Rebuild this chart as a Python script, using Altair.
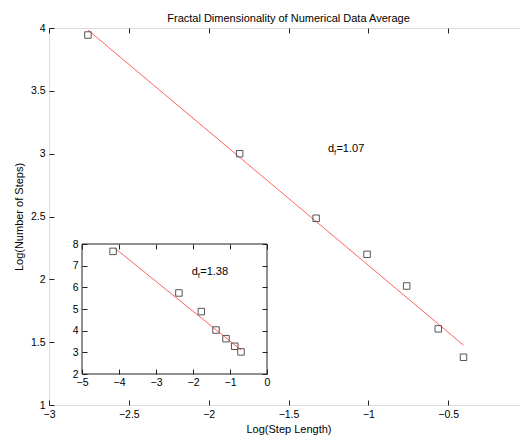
import altair as alt
import pandas as pd

# ---------------- data ----------------
main_x = [-2.756, -1.806, -1.327, -1.008, -0.760, -0.562, -0.404]
main_y = [3.944, 3.000, 2.486, 2.199, 1.947, 1.606, 1.380]
main_fit_x = [-2.756, -0.404]
main_fit_y = [3.984, 1.476]
main_label_pos = [-1.253, 3.037]
main_label_value = "=1.07"

inset_x = [-4.16, -2.38, -1.775, -1.378, -1.108, -0.873, -0.703]
inset_y = [7.66, 5.74, 4.88, 4.03, 3.63, 3.28, 3.02]
inset_fit_x = [-4.108, -0.703]
inset_fit_y = [7.80, 3.11]
inset_label_pos = [-2.035, 6.71]
inset_label_value = "=1.38"

main_xticks = [-3, -2.5, -2, -1.5, -1, -0.5]
main_xticks_all = [-3, -2.5, -2, -1.5, -1, -0.5, 0]
main_yticks = [1, 1.5, 2, 2.5, 3, 3.5, 4]
inset_xticks = [-5, -4, -3, -2, -1, 0]
inset_yticks = [2, 3, 4, 5, 6, 7, 8]

title_text = "Fractal Dimensionality of Numerical Data Average"
x_title = "Log(Step Length)"
y_title = "Log(Number of Steps)"

# ---------------- layout ----------------
W, H = 479, 377
FONT = "Liberation Sans"
INK = "#222222"
RED = "#ff6262"
SQ = "#555555"
LFS = 10.5
# inset box in plot pixels
IX0, IX1, IY0, IY1 = 33, 218, 346, 216

main_df = pd.DataFrame({"x": main_x, "y": main_y})
main_fit = pd.DataFrame({"x": main_fit_x, "y": main_fit_y})
main_lab = pd.DataFrame({"x": [main_label_pos[0]], "y": [main_label_pos[1]]})
inset_df = pd.DataFrame({"x": inset_x, "y": inset_y})
inset_fit = pd.DataFrame({"x": inset_fit_x, "y": inset_fit_y})
inset_lab = pd.DataFrame({"x": [inset_label_pos[0]], "y": [inset_label_pos[1]]})
inset_frame = pd.DataFrame({"x": [inset_xticks[0]], "x2": [inset_xticks[-1]],
                            "y": [inset_yticks[0]], "y2": [inset_yticks[-1]]})


def mxs():
    return alt.Scale(domain=[-3, 0], nice=False, zero=False)


def mys():
    return alt.Scale(domain=[1, 4], nice=False, zero=False)


def ixs():
    return alt.Scale(domain=[-5, 0], range=[IX0, IX1], nice=False, zero=False)


def iys():
    return alt.Scale(domain=[2, 8], range=[IY0, IY1], nice=False, zero=False)


common = dict(grid=False, domain=False, tickSize=5, tickColor=INK, tickWidth=1,
              labelFont=FONT, labelFontSize=LFS, labelColor="black",
              labelFlush=False, labelOverlap=False,
              titleFont=FONT, titleFontSize=11, titleFontWeight="normal",
              titleColor="black", zindex=1)

# main axes (inward ticks via negative offsets)
ax_main_bottom = alt.Axis(orient="bottom", values=main_xticks, format="~g", offset=-5,
                          labelPadding=4, title=x_title, titlePadding=4, **common)
ax_main_left = alt.Axis(orient="left", values=main_yticks, format="~g", offset=-5,
                        labelPadding=4, title=y_title, titlePadding=6, **common)
ax_main_top = alt.Axis(orient="top", values=main_xticks_all, labels=False, offset=-5,
                       title=None, **common)
ax_main_right = alt.Axis(orient="right", values=main_yticks, labels=False, offset=-5,
                         title=None, **common)

# inset axes
ax_in_bottom = alt.Axis(orient="bottom", values=inset_xticks, format="d",
                        offset=(IY0 - 5) - H, labelPadding=3, title=None, **common)
ax_in_left = alt.Axis(orient="left", values=inset_yticks, format="d",
                      offset=-(IX0 + 5), labelPadding=4, title=None, **common)
ax_in_top = alt.Axis(orient="top", values=inset_xticks, labels=False,
                     offset=-(IY1 + 5), title=None, **common)
ax_in_right = alt.Axis(orient="right", values=inset_yticks, labels=False,
                       offset=(IX1 - 5) - W, title=None, **common)

# ---------------- main layers ----------------
main_points = alt.Chart(main_df).mark_point(
    shape="square", size=42, filled=False, color=SQ, strokeWidth=1, opacity=1
).encode(
    x=alt.X("x:Q", scale=mxs(), axis=ax_main_bottom),
    y=alt.Y("y:Q", scale=mys(), axis=ax_main_left),
)

main_line = alt.Chart(main_fit).mark_line(color=RED, strokeWidth=1).encode(
    x=alt.X("x:Q", scale=mxs(), axis=ax_main_top),
    y=alt.Y("y:Q", scale=mys(), axis=ax_main_right),
)


def label_layers(df, xs, ys, value):
    base = alt.Chart(df)
    enc = dict(x=alt.X("x:Q", scale=xs, axis=None), y=alt.Y("y:Q", scale=ys, axis=None))
    d = base.mark_text(text="d", align="left", baseline="middle", font=FONT,
                       fontSize=11, color="black").encode(**enc)
    f = base.mark_text(text="f", align="left", baseline="middle", font=FONT,
                       fontSize=7.5, dx=6, dy=4, color="black").encode(**enc)
    v = base.mark_text(text=value, align="left", baseline="middle", font=FONT,
                       fontSize=11, dx=8.5, color="black").encode(**enc)
    return [d, f, v]


main_labels = label_layers(main_lab, mxs(), mys(), main_label_value)

# ---------------- inset layers ----------------
inset_box = alt.Chart(inset_frame).mark_rect(
    fill="white", stroke=INK, strokeWidth=1
).encode(
    x=alt.X("x:Q", scale=ixs(), axis=ax_in_bottom),
    x2="x2:Q",
    y=alt.Y("y:Q", scale=iys(), axis=ax_in_left),
    y2="y2:Q",
)

inset_line = alt.Chart(inset_fit).mark_line(color=RED, strokeWidth=1).encode(
    x=alt.X("x:Q", scale=ixs(), axis=ax_in_top),
    y=alt.Y("y:Q", scale=iys(), axis=ax_in_right),
)

inset_points = alt.Chart(inset_df).mark_point(
    shape="square", size=42, filled=False, color=SQ, strokeWidth=1, opacity=1
).encode(
    x=alt.X("x:Q", scale=ixs(), axis=None),
    y=alt.Y("y:Q", scale=iys(), axis=None),
)

inset_labels = label_layers(inset_lab, ixs(), iys(), inset_label_value)

chart = alt.layer(
    main_line, main_points, *main_labels,
    inset_box, inset_line, inset_points, *inset_labels,
).resolve_scale(
    x="independent", y="independent"
).resolve_axis(
    x="independent", y="independent"
).properties(
    width=W, height=H,
    title=alt.TitleParams(title_text, font=FONT, fontSize=11, fontWeight="normal",
                          color="black", offset=5, dy=6, anchor="middle"),
    autosize=alt.AutoSizeParams(type="none"),
    padding={"left": 41, "top": 20, "right": -8, "bottom": 30},
).configure_view(
    stroke=INK, strokeWidth=1
).configure(background="white")

chart.save("out.html", embed_options={"renderer": "svg", "actions": False})
